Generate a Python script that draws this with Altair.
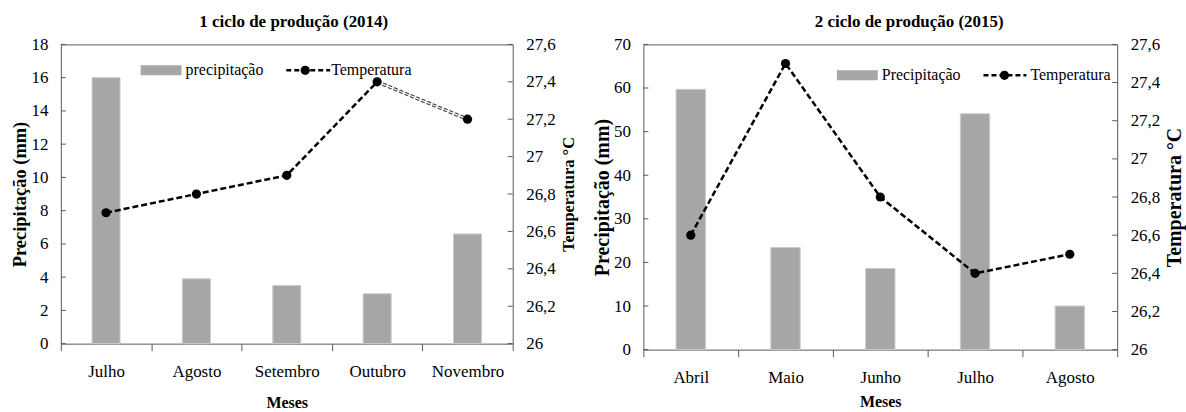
import altair as alt
import pandas as pd

# ---------------- data ----------------
months_1 = ["Julho", "Agosto", "Setembro", "Outubro", "Novembro"]
precip_1 = [16.0, 3.9, 3.5, 3.0, 6.6]
temp_1 = [26.7, 26.8, 26.9, 27.4, 27.2]

months_2 = ["Abril", "Maio", "Junho", "Julho", "Agosto"]
precip_2 = [59.7, 23.4, 18.6, 54.1, 10.0]
temp_2 = [26.6, 27.5, 26.8, 26.4, 26.5]

titles = ["1 ciclo de produção (2014)", "2 ciclo de produção (2015)"]
legend_1 = ["precipitação", "Temperatura"]
legend_2 = ["Precipitação", "Temperatura"]
precip_ticks_1 = [0, 2, 4, 6, 8, 10, 12, 14, 16, 18]
precip_ticks_2 = [0, 10, 20, 30, 40, 50, 60, 70]
temp_ticks = [26.0, 26.2, 26.4, 26.6, 26.8, 27.0, 27.2, 27.4, 27.6]

FONT = "Liberation Serif"
AX = "#595959"
BAR = "#A6A6A6"


def panel(months, precip, temp, pticks, title, leg, w, h, title_dx,
          leg_pos, ptitle_size, ttitle_size, xtitle_pad, hollow_from=None):
    df = pd.DataFrame({"Mes": months, "Precip": precip, "Temp": temp})
    xenc = alt.X(
        "Mes:N", sort=months, title="Meses",
        scale=alt.Scale(paddingInner=0, paddingOuter=0),
        axis=alt.Axis(tickBand="extent", tickSize=7, tickColor=AX,
                      labelAngle=0, labelPadding=13, domain=False,
                      labelFont=FONT, titleFont=FONT,
                      labelFontSize=17, titleFontSize=16, titlePadding=xtitle_pad),
    )
    base = alt.Chart(df).encode(x=xenc)
    yl = alt.Scale(domain=[pticks[0], pticks[-1]], nice=False)
    yr = alt.Scale(domain=[temp_ticks[0], temp_ticks[-1]], nice=False, zero=False)

    bars = base.mark_bar(width=alt.RelativeBandSize(0.31), color=BAR,
                         stroke="#cccccc", strokeWidth=1).encode(
        y=alt.Y("Precip:Q", scale=yl, title="Precipitação (mm)",
                axis=alt.Axis(orient="left", values=pticks, ticks=False, grid=False,
                              domain=False, labelPadding=13, labelFontSize=17,
                              labelFont=FONT, titleFont=FONT, titleFontWeight="bold",
                              titleFontSize=ptitle_size, titlePadding=1))
    )
    lt = alt.Chart(pd.DataFrame({"v": pticks})).mark_rule(color=AX).encode(
        y=alt.Y("v:Q", scale=yl, axis=None), x=alt.value(0), x2=alt.value(5))

    line_base = base
    if hollow_from is not None:
        line_base = base.transform_filter(
            alt.FieldOneOfPredicate(field="Mes", oneOf=months[:hollow_from + 1]))
    line = line_base.mark_line(color="black", strokeDash=[6, 3], strokeWidth=2.5).encode(
        y=alt.Y("Temp:Q", scale=yr, title="Temperatura °C",
                axis=alt.Axis(orient="right", values=temp_ticks, ticks=False,
                              grid=False, domain=False, labelPadding=13,
                              labelFont=FONT, titleFont=FONT, titleFontWeight="bold",
                              labelFontSize=17, titleFontSize=ttitle_size,
                              titleAngle=270, titleBaseline="top", titlePadding=5,
                              labelExpr="replace(format(datum.value, '.1~f'), '.', ',')"))
    )
    layers = [bars, line]
    if hollow_from is not None:
        hb = base.transform_filter(
            alt.FieldOneOfPredicate(field="Mes", oneOf=months[hollow_from:]))
        outer = hb.mark_line(color="#3a3a3a", strokeDash=[4, 2], strokeWidth=3.4).encode(
            y=alt.Y("Temp:Q", scale=yr, axis=None))
        inner = hb.mark_line(color="white", strokeDash=[4, 2], strokeWidth=1.2).encode(
            y=alt.Y("Temp:Q", scale=yr, axis=None))
        layers += [outer, inner]
    pts = base.mark_point(filled=True, size=85, color="black", opacity=1).encode(
        y=alt.Y("Temp:Q", scale=yr, axis=None))
    rt = alt.Chart(pd.DataFrame({"v": temp_ticks})).mark_rule(color=AX).encode(
        y=alt.Y("v:Q", scale=yr, axis=None), x=alt.value(w - 5), x2=alt.value(w))
    layers += [lt, pts, rt]

    # manual legend (inside plot)
    rx0, rx1, ry, tx1, lx0, lx1, dotx, tx2 = leg_pos
    one = pd.DataFrame({"k": [0]})
    lg_rect = alt.Chart(one).mark_rect(color=BAR).encode(
        x=alt.value(rx0), x2=alt.value(rx1), y=alt.value(ry - 5), y2=alt.value(ry + 5))
    lg_t1 = alt.Chart(one).mark_text(align="left", baseline="middle", font=FONT,
                                     fontSize=16, color="black").encode(
        x=alt.value(tx1), y=alt.value(ry), text=alt.value(leg[0]))
    lg_line = alt.Chart(one).mark_rule(color="black", strokeDash=[5, 3], strokeWidth=2.5).encode(
        x=alt.value(lx0), x2=alt.value(lx1), y=alt.value(ry))
    lg_dot = alt.Chart(one).mark_point(filled=True, size=85, color="black", opacity=1).encode(
        x=alt.value(dotx), y=alt.value(ry))
    lg_t2 = alt.Chart(one).mark_text(align="left", baseline="middle", font=FONT,
                                     fontSize=16, color="black").encode(
        x=alt.value(tx2), y=alt.value(ry), text=alt.value(leg[1]))
    layers += [lg_rect, lg_t1, lg_line, lg_dot, lg_t2]

    return alt.layer(*layers).resolve_scale(
        y="independent").resolve_axis(y="independent").properties(
        width=w, height=h,
        title=alt.TitleParams(title, font=FONT, fontSize=17, fontWeight="bold",
                              color="black", anchor="middle", frame="group",
                              dx=title_dx, offset=4),
    )


p1 = panel(months_1, precip_1, temp_1, precip_ticks_1, titles[0], legend_1,
           453, 300, 7, (80, 121, 26, 125, 226, 270, 245, 271), 18.5, 16.5, 15,
           hollow_from=3)
p2 = panel(months_2, precip_2, temp_2, precip_ticks_2, titles[1], legend_2,
           475, 306, 29, (194, 235, 31, 239, 341, 384, 362, 388), 20, 20, 8)

chart = alt.hconcat(p1, p2, spacing=14).properties(
    padding={"left": 10, "top": 12, "right": 0, "bottom": 0},
    background="white",
).configure_view(stroke=AX, strokeWidth=1).configure_axis(
    labelFont=FONT, titleFont=FONT, labelColor="black", titleColor="black",
    titleFontWeight="bold"
)

chart.save("out.html", embed_options={"renderer": "svg", "actions": False})
